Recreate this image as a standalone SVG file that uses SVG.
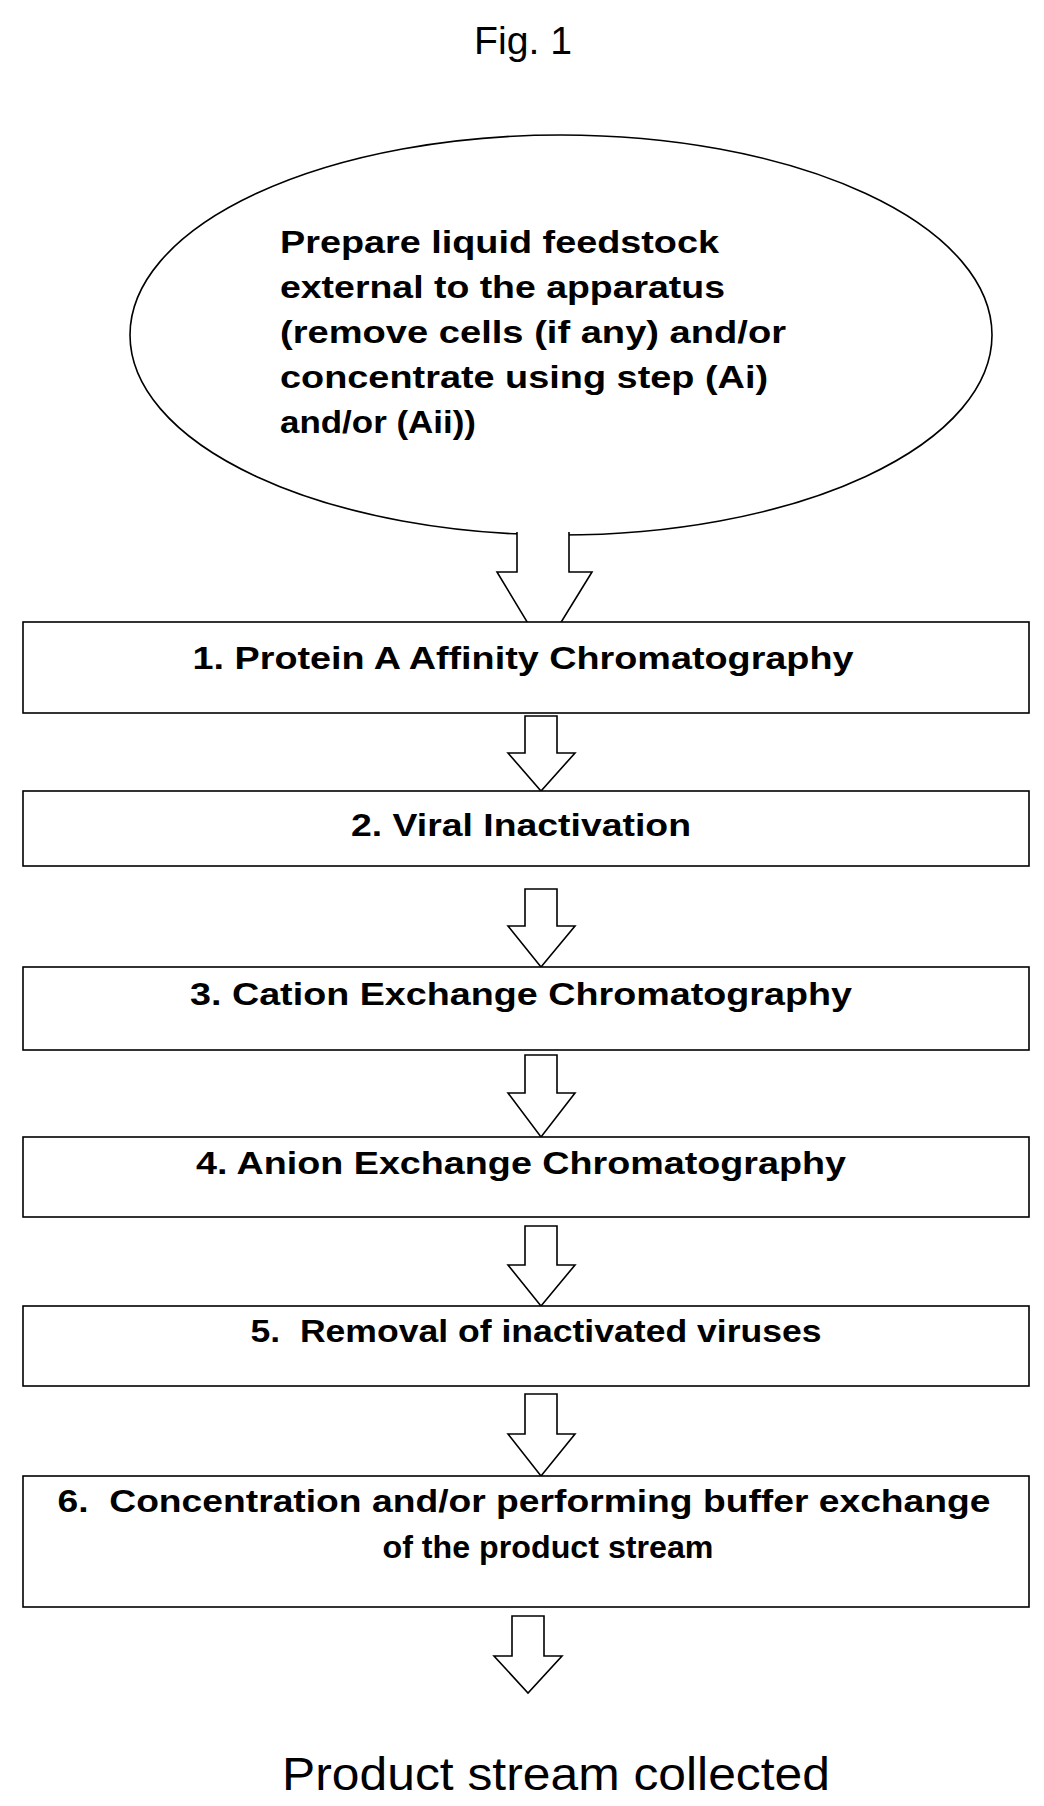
<svg xmlns="http://www.w3.org/2000/svg" width="1044" height="1806" viewBox="0 0 1044 1806">
<style>
.b{font-family:"Liberation Sans",Arial,sans-serif;font-weight:bold;font-size:32px;fill:#000}
.r{font-family:"Liberation Sans",Arial,sans-serif;fill:#000}
.s{fill:#fff;stroke:#000;stroke-width:1.6}
.a{fill:#fff;stroke:#000;stroke-width:1.6;stroke-linejoin:miter}
</style>
<rect width="1044" height="1806" fill="#fff"/>
<text class="r" x="523" y="54" font-size="38" text-anchor="middle" textLength="98" lengthAdjust="spacingAndGlyphs">Fig. 1</text>
<g id="start">
<ellipse class="s" cx="561" cy="335" rx="431" ry="200"/>
<text class="b" x="280" y="253" font-size="34" textLength="439" lengthAdjust="spacingAndGlyphs">Prepare liquid feedstock</text>
<text class="b" x="280" y="298" font-size="34" textLength="445" lengthAdjust="spacingAndGlyphs">external to the apparatus</text>
<text class="b" x="280" y="343" font-size="34" textLength="506" lengthAdjust="spacingAndGlyphs">(remove cells (if any) and/or</text>
<text class="b" x="280" y="388" font-size="34" textLength="488" lengthAdjust="spacingAndGlyphs">concentrate using step (Ai)</text>
<text class="b" x="280" y="433" font-size="34" textLength="196" lengthAdjust="spacingAndGlyphs">and/or (Aii))</text>
</g>
<g id="connectors">
<path class="a" d="M517 532 V572 H497 L544 650 L592 572 H569 V532"/>
<path class="a" d="M525 716 V753 H508 L541 791 L575 753 H557 V716 Z"/>
<path class="a" d="M525 889 V926 H508 L541 967 L575 926 H557 V889 Z"/>
<path class="a" d="M525 1055 V1093 H508 L541 1137 L575 1093 H557 V1055 Z"/>
<path class="a" d="M525 1226 V1265 H508 L541 1306 L575 1265 H557 V1226 Z"/>
<path class="a" d="M525 1394 V1434 H508 L541 1476 L575 1434 H557 V1394 Z"/>
<path class="a" d="M512 1616 V1656 H494 L528 1693 L562 1656 H544 V1616 Z"/>
</g>
<g id="step1"><rect class="s" x="23" y="622" width="1006" height="91"/>
<text class="b" x="523" y="669" text-anchor="middle" textLength="661" lengthAdjust="spacingAndGlyphs">1. Protein A Affinity Chromatography</text></g>
<g id="step2"><rect class="s" x="23" y="791" width="1006" height="75"/>
<text class="b" x="521" y="836" text-anchor="middle" textLength="340" lengthAdjust="spacingAndGlyphs">2. Viral Inactivation</text></g>
<g id="step3"><rect class="s" x="23" y="967" width="1006" height="83"/>
<text class="b" x="521" y="1005" text-anchor="middle" textLength="662" lengthAdjust="spacingAndGlyphs">3. Cation Exchange Chromatography</text></g>
<g id="step4"><rect class="s" x="23" y="1137" width="1006" height="80"/>
<text class="b" x="521" y="1174" text-anchor="middle" textLength="650" lengthAdjust="spacingAndGlyphs">4. Anion Exchange Chromatography</text></g>
<g id="step5"><rect class="s" x="23" y="1306" width="1006" height="80"/>
<text class="b" x="536" y="1342" text-anchor="middle" textLength="571" lengthAdjust="spacingAndGlyphs" xml:space="preserve">5.  Removal of inactivated viruses</text></g>
<g id="step6"><rect class="s" x="23" y="1476" width="1006" height="131"/>
<text class="b" x="524" y="1512" text-anchor="middle" textLength="933" lengthAdjust="spacingAndGlyphs" xml:space="preserve">6.  Concentration and/or performing buffer exchange</text>
<text class="b" x="548" y="1558" text-anchor="middle" textLength="331" lengthAdjust="spacingAndGlyphs">of the product stream</text></g>
<g id="end"><text class="r" x="556" y="1790" font-size="46" text-anchor="middle" textLength="548" lengthAdjust="spacingAndGlyphs">Product stream collected</text></g>
</svg>
